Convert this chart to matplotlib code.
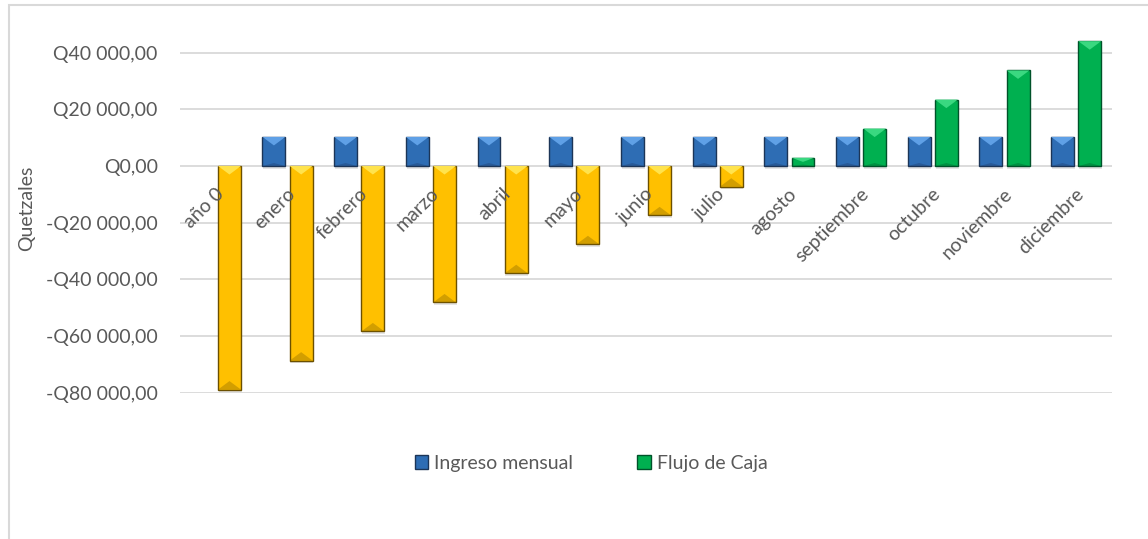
import numpy as np
import matplotlib.pyplot as plt
from matplotlib.patches import Polygon, Rectangle
from matplotlib.ticker import FuncFormatter

plt.rcParams['font.family'] = ['Lato', 'DejaVu Sans']

categorias = ['año 0', 'enero', 'febrero', 'marzo', 'abril', 'mayo', 'junio',
              'julio', 'agosto', 'septiembre', 'octubre', 'noviembre', 'diciembre']
ingreso_mensual = [np.nan, 10250, 10250, 10250, 10250, 10250, 10250,
                   10250, 10250, 10250, 10250, 10250, 10250]
flujo_caja = [-78800, -68600, -58300, -48100, -37800, -27600, -17400,
              -7300, 2900, 13200, 23400, 33700, 44000]

gris = '#595959'

fig = plt.figure(figsize=(11.48, 5.39), dpi=100)
ax = fig.add_axes([0.1568, 0.2709, 0.8118, 0.6738])

# borde del area del grafico
fig.patches.append(Rectangle((8.5 / 1148, -0.1), 1.2, 1.1 - 5.5 / 539, transform=fig.transFigure,
                             fill=False, edgecolor='#d9d9d9', linewidth=1.5))

x = np.arange(len(categorias))
ancho = 0.32
desp = 0.19


def bisel(barras, base, claro, oscuro, borde):
    # triangulos claros / oscuros para imitar el bisel de Excel
    for b in barras:
        h = b.get_height()
        if np.isnan(h) or h == 0:
            continue
        b.set_facecolor(base)
        b.set_edgecolor(borde)
        b.set_linewidth(1.0)
        x0, w = b.get_x(), b.get_width()
        th = min(3000, abs(h) / 2)
        s = np.sign(h)
        top = h
        # sombra
        ax.add_patch(Rectangle((x0 + 0.01, min(0, h) - 900), w, 900, facecolor='#000000',
                               alpha=0.10, edgecolor='none', zorder=2))
        if s > 0:
            ax.add_patch(Polygon([[x0, top], [x0 + w, top], [x0 + w / 2, top - th]],
                                 closed=True, facecolor=claro, edgecolor='none', zorder=4))
            ax.add_patch(Polygon([[x0, 0], [x0 + w, 0], [x0 + w / 2, min(th, h) * 0.35]],
                                 closed=True, facecolor=oscuro, edgecolor='none', alpha=0.35, zorder=4))
        else:
            ax.add_patch(Polygon([[x0, 0], [x0 + w, 0], [x0 + w / 2, -th]],
                                 closed=True, facecolor=claro, edgecolor='none', zorder=4))
            ax.add_patch(Polygon([[x0, top], [x0 + w, top], [x0 + w / 2, top + th]],
                                 closed=True, facecolor=oscuro, edgecolor='none', alpha=0.35, zorder=4))


b1 = ax.bar(x - desp, ingreso_mensual, ancho, color='#2e6db4', zorder=3, label='Ingreso mensual')
bisel(b1, '#2e6db4', '#5fa0e6', '#1f3864', '#1c3557')

colores = ['#ffc000' if v < 0 else '#00b050' for v in flujo_caja]
b2 = ax.bar(x + desp, flujo_caja, ancho, color=colores, zorder=3, label='Flujo de Caja')
for b, v in zip(b2, flujo_caja):
    if v < 0:
        bisel([b], '#ffc000', '#ffe34d', '#7f6000', '#6b5000')
    else:
        bisel([b], '#00b050', '#3ad880', '#005a2a', '#00522a')

ax.set_xlim(-0.5, len(categorias) - 0.5)
ax.set_ylim(-80000, 48000)
ax.set_yticks(np.arange(-80000, 40001, 20000))


def fmt(v, pos):
    s = f'{abs(v):,.2f}'.replace(',', ' ').replace('.', ',')
    return ('-Q' if v < 0 else 'Q') + s


ax.yaxis.set_major_formatter(FuncFormatter(fmt))
ax.tick_params(axis='y', length=0, labelsize=14, labelcolor=gris, pad=16)
ax.set_xticks([])
ax.grid(axis='y', color='#d9d9d9', linewidth=1.3, zorder=0)
for sp in ax.spines.values():
    sp.set_visible(False)

for i, c in enumerate(categorias):
    ax.annotate(c, xy=(i, 0), xytext=(5, -25), textcoords='offset pixels',
                ha='right', va='center', rotation=45, rotation_mode='anchor',
                fontsize=14, color=gris, zorder=5)

fig.text(26.5 / 1148, 1 - 208 / 539, 'Quetzales', rotation=90, ha='center', va='center',
         fontsize=14, color=gris)

leg = ax.legend(loc='center', bbox_to_anchor=(591 / 1148, 1 - 463 / 539),
                bbox_transform=fig.transFigure, ncol=2, frameon=False, fontsize=14,
                handlelength=0.7, handleheight=0.7, columnspacing=3.3, handletextpad=0.3,
                labelcolor=gris)
leg.legend_handles[0].set_facecolor('#2e6db4')
leg.legend_handles[0].set_edgecolor('#1c3557')
leg.legend_handles[1].set_facecolor('#00b050')
leg.legend_handles[1].set_edgecolor('#00522a')

fig.savefig('out.png', dpi=100)
